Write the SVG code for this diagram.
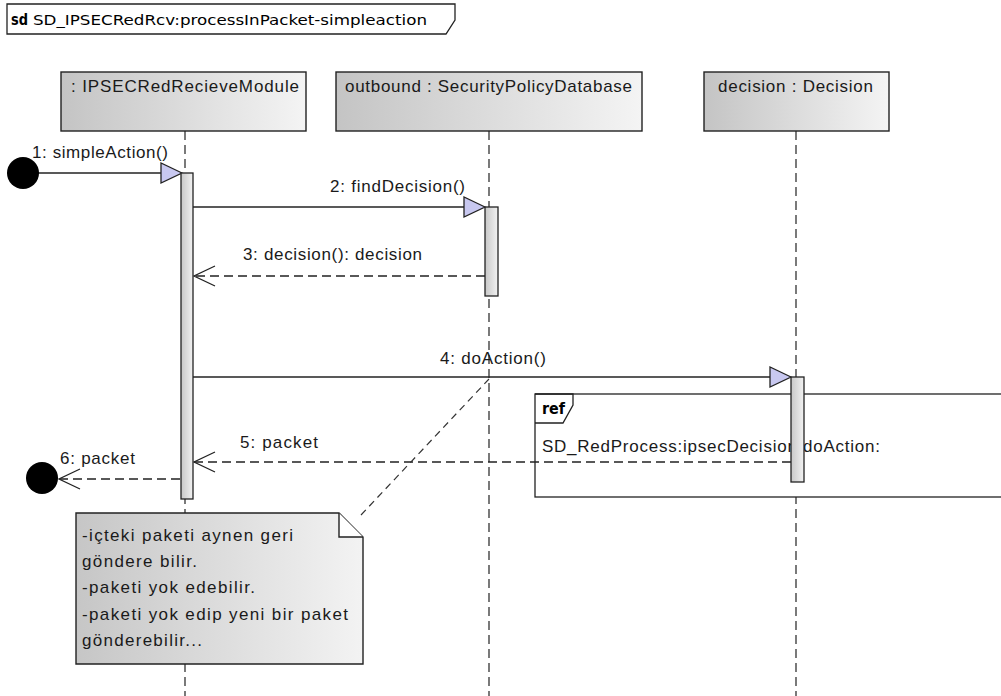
<svg xmlns="http://www.w3.org/2000/svg" width="1001" height="696" viewBox="0 0 1001 696">
  <defs>
    <linearGradient id="headFill" x1="0" y1="0" x2="1" y2="0">
      <stop offset="0" stop-color="#c4c4c4"/>
      <stop offset="1" stop-color="#f4f4f4"/>
    </linearGradient>
    <linearGradient id="barFill" x1="0" y1="0" x2="1" y2="0">
      <stop offset="0" stop-color="#c8c8c8"/>
      <stop offset="1" stop-color="#f2f2f2"/>
    </linearGradient>
    <linearGradient id="noteFill" x1="0" y1="0" x2="1" y2="0">
      <stop offset="0" stop-color="#c6c6c6"/>
      <stop offset="1" stop-color="#f3f3f3"/>
    </linearGradient>
    <style>
      .frame { fill: #ffffff; stroke: #222222; stroke-width: 1.3; }
      .head { fill: url(#headFill); stroke: #222222; stroke-width: 1.4; }
      .bar { fill: url(#barFill); stroke: #222222; stroke-width: 1.3; }
      .note { fill: url(#noteFill); stroke: #222222; stroke-width: 1.4; }
      .life { stroke: #222222; stroke-width: 1.2; stroke-dasharray: 9 5; fill: none; }
      .call { stroke: #222222; stroke-width: 1.3; fill: none; }
      .reply { stroke: #222222; stroke-width: 1.3; stroke-dasharray: 9 5; fill: none; }
      .link { stroke: #333333; stroke-width: 1.2; stroke-dasharray: 7 5; fill: none; }
      .tri { fill: #c8c8f0; stroke: #222222; stroke-width: 1.3; stroke-linejoin: miter; }
      .open { fill: none; stroke: #222222; stroke-width: 1.3; }
      .dot { fill: #000000; }
      .t { font-family: "Liberation Sans", Arial, sans-serif; font-size: 17px; fill: #1a1a1a; }
      .tt { font-family: "DejaVu Sans", "Liberation Sans", sans-serif; font-size: 14px; fill: #000000; }
      .kw { font-family: "DejaVu Sans", "Liberation Sans", sans-serif; font-size: 15px; font-weight: bold; fill: #000000; }
    </style>
  </defs>

  <!-- interaction frame tab -->
  <g id="frame">
    <path class="frame" d="M7,4 H455 V20 L446,34 H7 Z"/>
    <text class="kw" x="11" y="25" textLength="17" lengthAdjust="spacingAndGlyphs">sd</text>
    <text class="tt" x="33" y="25" textLength="394" lengthAdjust="spacingAndGlyphs">SD_IPSECRedRcv:processInPacket-simpleaction</text>
  </g>

  <!-- lifelines -->
  <g id="lifeline-receiver">
    <rect class="head" x="61" y="72" width="245" height="59"/>
    <text class="t" x="71" y="92" textLength="228" lengthAdjust="spacing">: IPSECRedRecieveModule</text>
    <line class="life" x1="185" y1="131" x2="185" y2="696"/>
  </g>
  <g id="lifeline-outbound">
    <rect class="head" x="336" y="72" width="306" height="59"/>
    <text class="t" x="345" y="92" textLength="287" lengthAdjust="spacing">outbound : SecurityPolicyDatabase</text>
    <line class="life" x1="489" y1="131" x2="489" y2="696"/>
  </g>
  <g id="lifeline-decision">
    <rect class="head" x="704" y="72" width="185" height="59"/>
    <text class="t" x="718" y="92" textLength="155" lengthAdjust="spacing">decision : Decision</text>
    <line class="life" x1="796" y1="131" x2="796" y2="696"/>
  </g>

  <!-- interaction use -->
  <g id="ref-doAction">
    <rect x="535" y="394" width="480" height="103" fill="#ffffff" stroke="#222222" stroke-width="1.3"/>
    <path d="M535,394 H573 V405 L563,423 H535" fill="none" stroke="#222222" stroke-width="1.3"/>
    <text class="kw" x="542" y="414" textLength="23" lengthAdjust="spacingAndGlyphs">ref</text>
    <text class="t" x="542" y="452" textLength="338" lengthAdjust="spacing">SD_RedProcess:ipsecDecision:doAction:</text>
  </g>

  <!-- messages -->
  <g id="connectors">
    <g id="msg1">
      <line class="call" x1="38" y1="173" x2="165" y2="173"/>
      <polygon class="tri" points="182,173 161,163 161,183"/>
      <text class="t" x="32" y="158" textLength="136" lengthAdjust="spacing">1: simpleAction()</text>
    </g>
    <g id="msg2">
      <line class="call" x1="193" y1="207" x2="466" y2="207"/>
      <polygon class="tri" points="485,207 464,197 464,217"/>
      <text class="t" x="330" y="192" textLength="135" lengthAdjust="spacing">2: findDecision()</text>
    </g>
    <g id="msg3">
      <line class="reply" x1="485" y1="276" x2="194" y2="276"/>
      <polyline class="open" points="215,266 194,276 215,286"/>
      <text class="t" x="243" y="260" textLength="179" lengthAdjust="spacing">3: decision(): decision</text>
    </g>
    <g id="msg4">
      <line class="call" x1="193" y1="377" x2="772" y2="377"/>
      <polygon class="tri" points="791,377 770,367 770,387"/>
      <text class="t" x="440" y="364" textLength="106" lengthAdjust="spacing">4: doAction()</text>
    </g>
    <g id="msg5">
      <line class="reply" x1="791" y1="462" x2="194" y2="462"/>
      <polyline class="open" points="215,452 194,462 215,472"/>
      <text class="t" x="240" y="448" textLength="78" lengthAdjust="spacing">5: packet</text>
    </g>
    <g id="msg6">
      <line class="reply" x1="180" y1="479" x2="60" y2="479"/>
      <polyline class="open" points="80,469 59,479 80,489"/>
      <text class="t" x="60" y="464" textLength="75" lengthAdjust="spacing">6: packet</text>
    </g>
    <line id="note-link" class="link" x1="361" y1="515" x2="489" y2="379"/>
  </g>

  <!-- found / lost message endpoints -->
  <g id="start-point">
    <circle class="dot" cx="23" cy="173" r="16"/>
  </g>
  <g id="end-point">
    <circle class="dot" cx="42" cy="478" r="16"/>
  </g>

  <!-- activation bars -->
  <g id="activation-receiver">
    <rect class="bar" x="181" y="173" width="12" height="326"/>
  </g>
  <g id="activation-outbound">
    <rect class="bar" x="485" y="207" width="13" height="89"/>
  </g>
  <g id="activation-decision">
    <rect class="bar" x="791" y="377" width="13" height="105"/>
  </g>

  <!-- comment note -->
  <g id="note">
    <path class="note" d="M76,513 H339 L363,537 V664 H76 Z"/>
    <path d="M339,513 V537 H363" fill="#ffffff" stroke="#222222" stroke-width="1.4"/>
    <text class="t" x="82" y="541" textLength="211" lengthAdjust="spacing">-içteki paketi aynen geri</text>
    <text class="t" x="82" y="567" textLength="115" lengthAdjust="spacing">göndere bilir.</text>
    <text class="t" x="82" y="593" textLength="173" lengthAdjust="spacing">-paketi yok edebilir.</text>
    <text class="t" x="82" y="620" textLength="266" lengthAdjust="spacing">-paketi yok edip yeni bir paket</text>
    <text class="t" x="82" y="646" textLength="120" lengthAdjust="spacing">gönderebilir...</text>
  </g>
</svg>
